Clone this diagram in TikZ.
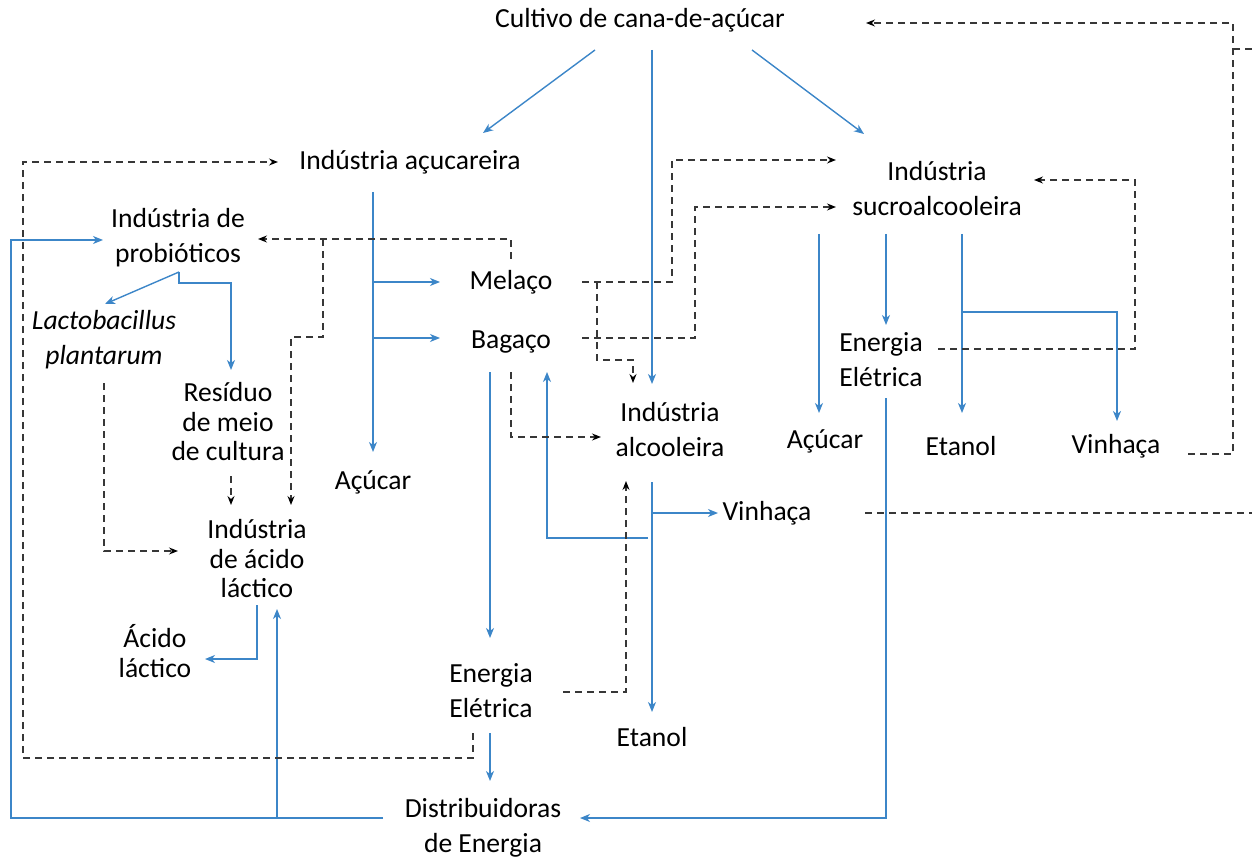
\documentclass[tikz,border=0pt]{standalone}
\usepackage{fontspec}
\setmainfont{Carlito}
\usetikzlibrary{arrows.meta,calc}
\definecolor{flowblue}{RGB}{60,134,200}
\definecolor{dashgray}{RGB}{55,55,55}
\begin{document}
\begin{tikzpicture}[x=1pt,y=-1pt,
  lbl/.style={align=center, inner sep=0pt, font=\fontsize{27.6pt}{35pt}\selectfont},
  lbltight/.style={align=center, inner sep=0pt, font=\fontsize{27.6pt}{29.5pt}\selectfont},
  flowline/.style={draw=flowblue, line width=1.4pt},
  flow/.style={flowline, -{Stealth[length=10pt,width=8pt,inset=3pt]}},
  feedline/.style={draw=dashgray, line width=1.3pt, dash pattern=on 7pt off 5pt},
  feed/.style={feedline, -{Stealth[length=9pt,width=7pt,inset=3pt,color=black]}}]
\useasboundingbox (0,0) rectangle (1252,858);

% nodes
\node[lbl] (cult) at (640,20) {Cultivo de cana-de-açúcar};
\node[lbl] (acuc) at (410,162) {Indústria açucareira};
\node[lbl] (sucro) at (937,189) {Indústria\\sucroalcooleira};
\node[lbl] (prob) at (178,238) {Indústria de\\probióticos};
\node[lbl] (lacto) at (104,340) {\textit{Lactobacillus}\\\textit{plantarum}};
\node[lbltight] (resid) at (228,422) {Resíduo\\de meio\\de cultura};
\node[lbltight] (acido) at (257,559) {Indústria\\de ácido\\láctico};
\node[lbltight] (aclac) at (155,651) {Ácido\\láctico};
\node[lbl] (melaco) at (511,282) {Melaço};
\node[lbl] (bagaco) at (511,342) {Bagaço};
\node[lbl] (acucarL) at (373,482) {Açúcar};
\node[lbl] (alcool) at (670,430) {Indústria\\alcooleira};
\node[lbl] (vinM) at (767,513) {Vinhaça};
\node[lbl] (enerM) at (491,691) {Energia\\Elétrica};
\node[lbl] (etanolM) at (652,737) {Etanol};
\node[lbl] (distr) at (483,828) {Distribuidoras\\de Energia};
\node[lbl] (enerR) at (881,360) {Energia\\Elétrica};
\node[lbl] (acucarR) at (825,441) {Açúcar};
\node[lbl] (etanolR) at (961,446) {Etanol};
\node[lbl] (vinR) at (1116,446) {Vinhaça};

% junction / edge coordinates
\coordinate (jMel) at (373,282);
\coordinate (jBag) at (373,338);
\coordinate (jVin) at (652,513);
\coordinate (jRet) at (648,538);
\coordinate (jProb) at (179,272);
\coordinate (jDist) at (277,818);
\coordinate (jSucro) at (962,312);
\coordinate (jMelB) at (323,239);
\coordinate (jMelC) at (597,282);
\coordinate (edgeTop) at (1252,49);
\coordinate (edgeTopIn) at (1233,49);
\coordinate (edgeMid) at (1252,513);

% blue flows
\draw[flow] ($(cult)+(-45,30)$) -- ($(acuc)+(73,-29)$);
\draw[flow] ($(cult)+(12,30)$) -- ($(alcool)+(-18,-46)$);
\draw[flow] ($(cult)+(112,30)$) -- ($(sucro)+(-73,-55)$);

\draw[flow] ($(acuc)+(-37,30)$) -- ($(acucarL)+(0,-30)$);
\draw[flow] (jMel) -- ($(melaco)+(-71,0)$);
\draw[flow] (jBag) -- ($(bagaco)+(-71,-4)$);

\draw[flow] ($(bagaco)+(-21,30)$) -- ($(enerM)+(-1,-53)$);
\draw[flow] ($(enerM)+(-1,42)$) -- ($(distr)+(7,-47)$);

\draw[flow] ($(alcool)+(-18,52)$) -- ($(etanolM)+(0,-25)$);
\draw[flow] (jVin) -- ($(vinM)+(-49,0)$);
\draw[flow] (jRet) -- (547,538) -- ($(bagaco)+(36,30)$);

\draw[flow] (jProb) -- ($(lacto)+(1,-36)$);
\draw[flow] (jProb) -- (179,283) -- (231,283) -- ($(resid)+(3,-52)$);

\draw[flow] ($(acido)+(0,46)$) -- (257,659) -- ($(aclac)+(50,8)$);

\draw[flow] ($(distr)+(-100,-10)$) -- (11,818) -- (11,240) -- ($(prob)+(-75,2)$);
\draw[flow] (jDist) -- ($(acido)+(20,50)$);

\draw[flow] ($(enerR)+(5,38)$) -- (886,818) -- ($(distr)+(97,-10)$);

\draw[flow] ($(sucro)+(-118,45)$) -- ($(acucarR)+(-6,-28)$);
\draw[flow] ($(sucro)+(-51,45)$) -- ($(enerR)+(5,-35)$);
\draw[flow] ($(sucro)+(25,45)$) -- ($(etanolR)+(1,-33)$);
\draw[flow] (jSucro) -- (1117,312) -- ($(vinR)+(1,-25)$);

% dashed feedbacks
\draw[feed] ($(enerM)+(-18,42)$) -- (473,758) -- (23,758) -- (23,162) -- ($(acuc)+(-132,0)$);
\draw[feed] ($(melaco)+(0,-23)$) -- (511,239) -- ($(prob)+(80,1)$);
\draw[feed] (jMelB) -- (323,337) -- (291,337) -- ($(acido)+(34,-54)$);
\draw[feed] ($(lacto)+(0,43)$) -- (104,551) -- ($(acido)+(-79,-8)$);
\draw[feed] ($(resid)+(3,54)$) -- ($(acido)+(-26,-54)$);
\draw[feed] ($(melaco)+(71,0)$) -- (672,282) -- (672,160) -- ($(sucro)+(-101,-29)$);
\draw[feed] ($(bagaco)+(71,-4)$) -- (695,338) -- (695,207) -- ($(sucro)+(-101,18)$);
\draw[feed] (jMelC) -- (597,360) -- (633,360) -- ($(alcool)+(-37,-47)$);
\draw[feed] ($(bagaco)+(0,30)$) -- (511,437) -- ($(alcool)+(-69,7)$);
\draw[feed] ($(enerM)+(72,1)$) -- (626,692) -- ($(alcool)+(-44,51)$);
\draw[feed] ($(enerR)+(57,-11)$) -- (1135,349) -- (1135,180) -- ($(sucro)+(97,-9)$);
\draw[feed] ($(vinR)+(72,8)$) -- (1233,454) -- (1233,23) -- ($(cult)+(226,3)$);
\draw[feedline] (edgeTop) -- (edgeTopIn);
\draw[feedline] ($(vinM)+(98,0)$) -- (edgeMid);
\end{tikzpicture}
\end{document}
